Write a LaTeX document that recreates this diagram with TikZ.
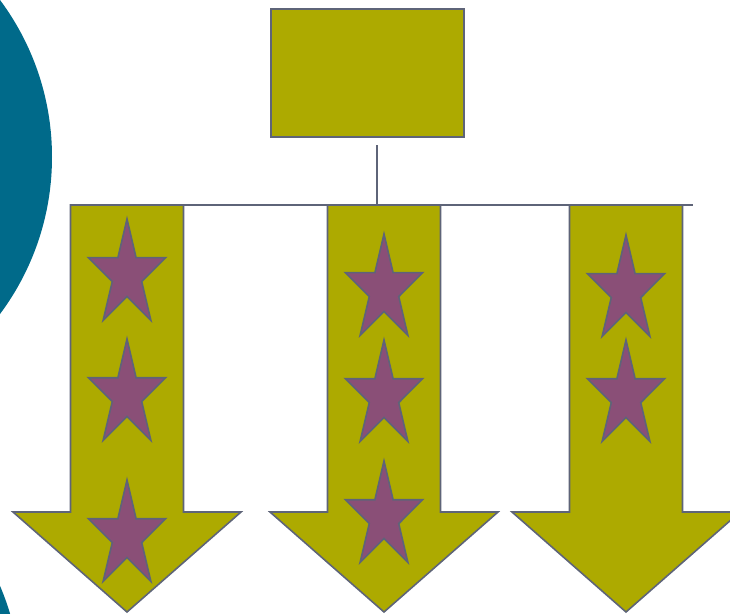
\documentclass[tikz,border=0pt]{standalone}
\usepackage{tikz}
\usepackage{xcolor}
\usetikzlibrary{shapes.geometric}
\definecolor{olive}{HTML}{ADAA00}
\definecolor{plum}{HTML}{8A4F77}
\definecolor{teal}{HTML}{006A8A}
\definecolor{edge}{HTML}{5E6478}

\begin{document}
\begin{tikzpicture}[x=1pt,y=-1pt,line width=1.6pt,
  shapefill/.style={fill=olive,draw=edge,line join=miter},
  mstar/.style={star,star points=5,star point ratio=2.618,minimum size=112pt,
                inner sep=0pt,outer sep=0pt,fill=plum,draw=edge}]
  \useasboundingbox (0,0) rectangle (730,613);
  \clip (0,0) rectangle (730,613);
  % background: teal discs on the left
  \fill[teal] (-211,157) circle (263);
  \fill[teal] (-242,689) circle (263);
  % top box and its stem
  \node[shapefill,minimum width=193pt,minimum height=128pt,inner sep=0pt,anchor=north west]
    (box) at (270,8) {};
  \coordinate (stem) at (377,145);
  \coordinate (joint) at (377,205);
  \coordinate (busl) at (70,205);
  \coordinate (busr) at (693,205);
  % three down arrows
  \foreach \ax in {127,384,626}{
    \draw[shapefill] (\ax-56.5,205) -- (\ax+56.5,205) -- (\ax+56.5,512)
      -- (\ax+114,512) -- (\ax,612) -- (\ax-114,512) -- (\ax-56.5,512) -- cycle;}
  \draw[draw=edge] (busl) -- (busr);
  \draw[draw=edge] (stem) -- (joint);
  % stars
  \foreach \cx/\cy [count=\i] in {127/275,127/395,127/536,384/290,384/396,384/517,626/291,626/396}{
    \begin{scope}[shift={(\cx,\cy)},xscale=0.725]
      \node[mstar,transform shape] (s\i) at (0,0) {};
    \end{scope}}
\end{tikzpicture}
\end{document}
